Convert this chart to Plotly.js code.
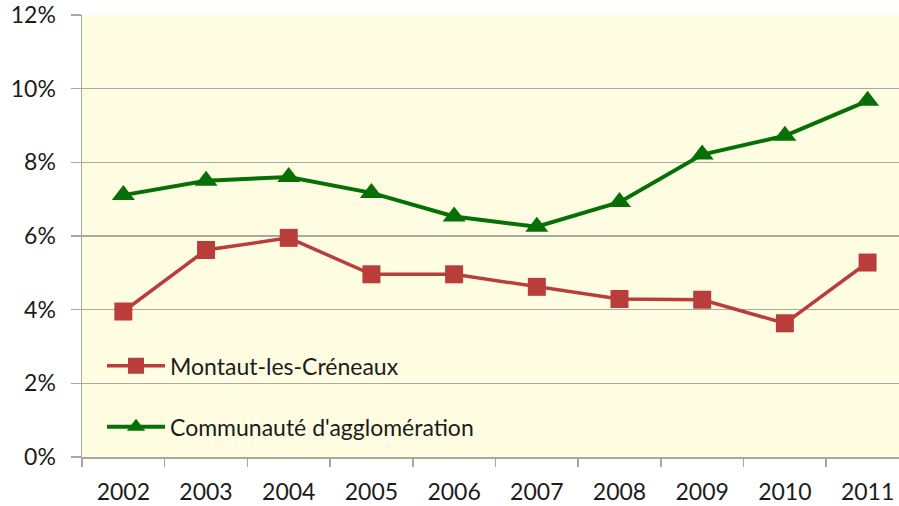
<!DOCTYPE html>
<html>
<head>
<meta charset="utf-8">
<script src="https://cdn.plot.ly/plotly-3.0.1.min.js"></script>
<style>
  html, body { margin: 0; padding: 0; background: #ffffff; }
  #chart { width: 899px; height: 506px; }
</style>
</head>
<body>
<div id="chart"></div>
<script>
// Years on the category axis
const years = ['2002', '2003', '2004', '2005', '2006', '2007', '2008', '2009', '2010', '2011'];

// Shares in percent
const montaut = [3.95, 5.62, 5.95, 4.96, 4.96, 4.62, 4.29, 4.27, 3.63, 5.28];
const agglo = [7.11, 7.50, 7.60, 7.17, 6.53, 6.25, 6.92, 8.21, 8.72, 9.67];

const seriesNames = ['Montaut-les-Créneaux', "Communauté d'agglomération"];
const yTicks = [0, 2, 4, 6, 8, 10, 12];
const yTickText = yTicks.map(v => v + '%');

const textColor = '#1c1c1c';
const gridColor = '#a8a8a0';

const traces = [
    {
        type: 'scatter',
        mode: 'lines+markers',
        name: seriesNames[0],
        legendgroup: 'a',
        x: years,
        y: montaut,
        line: { color: '#b83d3b', width: 3.5 },
        marker: { symbol: 'square', size: 18, color: '#b83d3b' },
        cliponaxis: false
    },
    {
        type: 'scatter',
        mode: 'lines+markers',
        name: seriesNames[1],
        legendgroup: 'b',
        x: years,
        y: agglo,
        line: { color: '#067006', width: 4 },
        marker: { symbol: 'triangle-up', size: 20, color: '#067006' },
        cliponaxis: false
    }
];

const layout = {
    width: 899,
    height: 506,
    margin: { l: 82, r: 0, t: 15, b: 49, pad: 0 },
    paper_bgcolor: '#ffffff',
    plot_bgcolor: '#fffde1',
    font: { family: 'Lato, "Open Sans", sans-serif', size: 21, color: textColor },
    showlegend: true,
    legend: {
        x: 0.0245,
        xanchor: 'left',
        y: 0.255,
        yanchor: 'top',
        bgcolor: 'rgba(0,0,0,0)',
        font: { size: 23, color: textColor },
        itemwidth: 58,
        traceorder: 'grouped',
        tracegroupgap: 28
    },
    xaxis: {
        type: 'category',
        range: [-0.5, 9.38],
        showgrid: false,
        showline: true,
        linecolor: gridColor,
        linewidth: 1.5,
        ticks: 'outside',
        ticklen: 8,
        tickcolor: gridColor,
        tickwidth: 1.5,
        tickson: 'boundaries',
        ticklabelstandoff: 14,
        tickfont: { size: 23, color: textColor },
        zeroline: false,
        fixedrange: true
    },
    yaxis: {
        range: [0, 12],
        tickvals: yTicks,
        ticktext: yTickText,
        showgrid: true,
        gridcolor: gridColor,
        gridwidth: 1.5,
        showline: true,
        linecolor: gridColor,
        linewidth: 1.5,
        ticks: 'outside',
        ticklen: 10,
        tickcolor: gridColor,
        tickwidth: 1.5,
        ticklabelstandoff: 10,
        tickfont: { size: 23, color: textColor },
        zeroline: false,
        fixedrange: true
    }
};

Plotly.newPlot('chart', traces, layout, { displayModeBar: false, staticPlot: true });
</script>
</body>
</html>
